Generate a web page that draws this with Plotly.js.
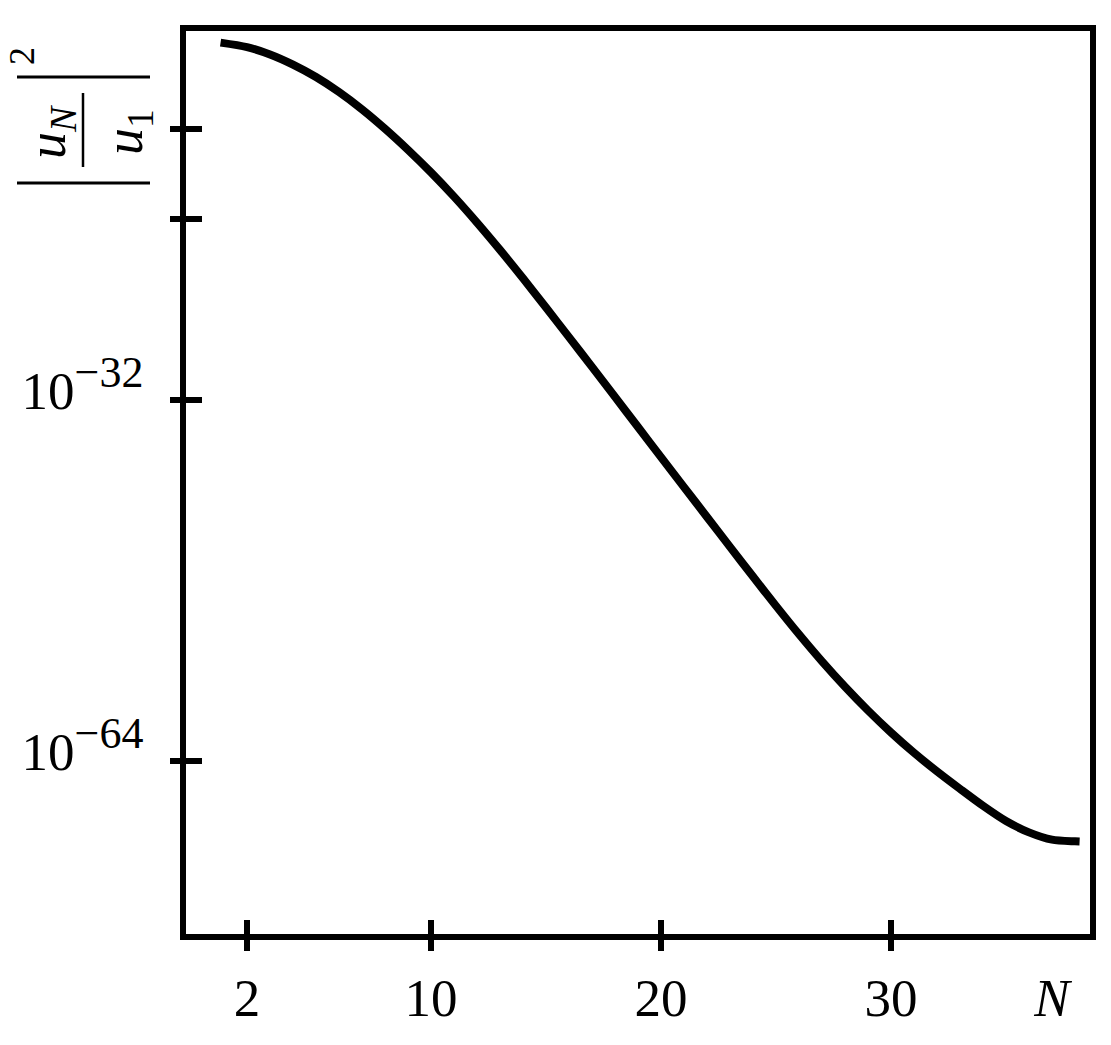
<!DOCTYPE html>
<html>
<head>
<meta charset="utf-8">
<script src="https://cdn.plot.ly/plotly-3.0.1.min.js"></script>
<style>
  html, body { margin: 0; padding: 0; background: #fff; }
  #chart { width: 1111px; height: 1045px; }
</style>
</head>
<body>
<div id="chart"></div>
<script>
// ---- data ----
const N_values = [0.85, 2, 3, 4, 5, 6, 7, 8, 9, 10, 11, 12, 13, 14, 15, 16, 17, 18, 19, 20,
                  21, 22, 23, 24, 25, 26, 27, 28, 29, 30, 31, 32, 33, 34, 35, 36, 37, 38, 38.2];
// log10 of |u_N/u_1|^2
const log10_ratio = [-0.36, -0.76, -1.41, -2.31, -3.41, -4.74, -6.27, -7.99, -9.86, -11.86,
                     -14.01, -16.31, -18.73, -21.25, -23.84, -26.46, -29.10, -31.76, -34.43, -37.10,
                     -39.75, -42.40, -45.05, -47.68, -50.28, -52.80, -55.20, -57.45, -59.55, -61.50,
                     -63.30, -64.95, -66.50, -68.00, -69.35, -70.35, -71.00, -71.15, -71.17];
const ratio_sq = log10_ratio.map(v => Math.pow(10, v));

const x_tickvals = [2, 10, 20, 30];
const x_ticktext = ['2', '10', '20', '30'];
const x_axis_label_pos = 37;
const y_tickvals = [1e-8, 1e-16, 1e-32, 1e-64];
const y_labelvals = [1e-32, 1e-64];
const y_labelexp = ['−32', '−64'];

// ---- layout geometry ----
const W = 1111, H = 1045;
const M = {l: 186, r: 21, t: 31, b: 111};
const PW = W - M.l - M.r, PH = H - M.t - M.b;
const px = p => (p - M.l) / PW;          // pixel -> paper x
const py = p => (H - M.b - p) / PH;      // pixel -> paper y

const xRange = [-0.652, 38.652];
const yRange = [-79.36, 0.67];
const FONT = 'Liberation Serif, Times New Roman, serif';

const curve = {
  x: N_values, y: ratio_sq, type: 'scatter', mode: 'lines',
  line: {color: '#000', width: 8, shape: 'spline', smoothing: 0.8},
  hoverinfo: 'skip', showlegend: false
};
// empty carriers so the tick-only overlay axes get drawn
const carrier2 = {x: [], y: [], type: 'scatter', mode: 'lines', xaxis: 'x2', yaxis: 'y2',
                  hoverinfo: 'skip', showlegend: false};
const carrier3 = {x: [], y: [], type: 'scatter', mode: 'lines', xaxis: 'x3', yaxis: 'y3',
                  hoverinfo: 'skip', showlegend: false};

const baseX = {range: xRange, type: 'linear', showgrid: false, zeroline: false, fixedrange: true};
const baseY = {range: yRange, type: 'log', showgrid: false, zeroline: false, fixedrange: true};

const tickOnlyX = (dir, len, anchor) => Object.assign({}, baseX, {
  overlaying: 'x', anchor: anchor, side: 'bottom',
  tickmode: 'array', tickvals: x_tickvals, ticks: dir, ticklen: len, tickwidth: 6,
  tickcolor: '#000', showticklabels: false, showline: false
});
const tickOnlyY = (dir, len, anchor) => Object.assign({}, baseY, {
  overlaying: 'y', anchor: anchor, side: 'left',
  tickmode: 'array', tickvals: y_tickvals, ticks: dir, ticklen: len, tickwidth: 6,
  tickcolor: '#000', showticklabels: false, showline: false
});

const layout = {
  width: W, height: H,
  margin: M,
  paper_bgcolor: '#fff', plot_bgcolor: 'rgba(0,0,0,0)',
  font: {family: FONT, color: '#000', size: 53},
  showlegend: false,
  xaxis: Object.assign({}, baseX, {
    tickmode: 'array',
    tickvals: x_tickvals.concat([x_axis_label_pos]),
    ticktext: x_ticktext.concat(['<i>N</i>']),
    ticks: '', showline: true, linewidth: 6, linecolor: '#000', mirror: true,
    tickfont: {family: FONT, size: 53, color: '#000'},
    ticklabelstandoff: 12
  }),
  xaxis2: tickOnlyX('outside', 16, 'y2'),
  xaxis3: tickOnlyX('inside', 14, 'y3'),
  yaxis: Object.assign({}, baseY, {
    tickmode: 'array', tickvals: y_labelvals,
    ticktext: y_labelexp.map(e => '10<sup><span style="font-size:44px">' + e + '</span></sup>'),
    ticks: '', showline: true, linewidth: 6, linecolor: '#000', mirror: true,
    tickfont: {family: FONT, size: 53, color: '#000'},
    ticklabelstandoff: 26, ticklabelshift: -9
  }),
  yaxis2: tickOnlyY('outside', 15, 'x2'),
  yaxis3: tickOnlyY('inside', 16, 'x3'),
  shapes: [
    // |...| bars and fraction bar of the y label
    {type: 'line', xref: 'paper', yref: 'paper', x0: px(17), x1: px(150), y0: py(77), y1: py(77),
     line: {color: '#000', width: 3}},
    {type: 'line', xref: 'paper', yref: 'paper', x0: px(17), x1: px(150), y0: py(183), y1: py(183),
     line: {color: '#000', width: 3}},
    {type: 'line', xref: 'paper', yref: 'paper', x0: px(83), x1: px(83), y0: py(93), y1: py(167),
     line: {color: '#000', width: 2.5}}
  ],
  annotations: [
    {xref: 'paper', yref: 'paper', x: px(50), y: py(132), text: '<i>u</i><sub><i>N</i></sub>',
     showarrow: false, textangle: -90, xanchor: 'center', yanchor: 'middle',
     font: {family: FONT, size: 54, color: '#000'}},
    {xref: 'paper', yref: 'paper', x: px(127), y: py(132), text: '<i>u</i><sub>1</sub>',
     showarrow: false, textangle: -90, xanchor: 'center', yanchor: 'middle',
     font: {family: FONT, size: 54, color: '#000'}},
    {xref: 'paper', yref: 'paper', x: px(22), y: py(56), text: '2',
     showarrow: false, textangle: -90, xanchor: 'center', yanchor: 'middle', borderpad: 0,
     font: {family: FONT, size: 36, color: '#000'}}
  ]
};

Plotly.newPlot('chart', [curve, carrier2, carrier3], layout, {displayModeBar: false, staticPlot: true});
</script>
</body>
</html>
